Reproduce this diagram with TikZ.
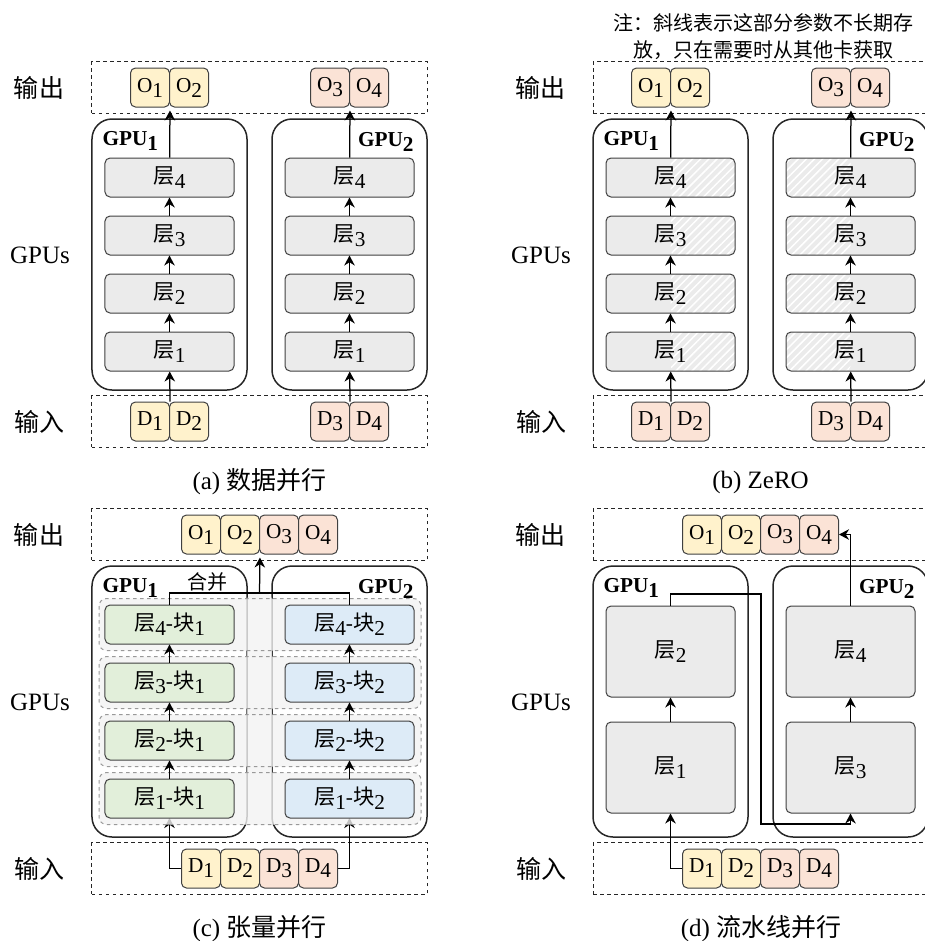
\documentclass[tikz,border=0pt]{standalone}
\usepackage{fontspec}
\setmainfont{Liberation Serif}
\newfontfamily\cjk{Noto Sans CJK SC}
\usetikzlibrary{arrows.meta,calc,positioning,patterns.meta}

\definecolor{yellowfill}{HTML}{FFF2CC}
\definecolor{peachfill}{HTML}{FBE3D6}
\definecolor{greenfill}{HTML}{E2EFDA}
\definecolor{bluefill}{HTML}{DDEBF7}
\definecolor{layerfill}{HTML}{EBEBEB}
\definecolor{boxline}{HTML}{404040}

\newcommand{\zh}[1]{{\cjk #1}}
\newcommand{\lowidx}[1]{\raisebox{-2pt}{#1}}

\begin{document}
\begin{tikzpicture}[x=0.4pt,y=-0.4pt,
    every node/.style={inner sep=0pt},
    iobox/.style={draw=black!85,line width=0.4pt,dash pattern=on 1.4pt off 1.4pt,
      minimum width=134pt,minimum height=20.6pt},
    gpubox/.style={draw=black!85,line width=0.6pt,rounded corners=8pt,
      minimum width=62pt,minimum height=108.4pt},
    layerbox/.style={draw=boxline,line width=0.4pt,fill=layerfill,rounded corners=2pt,
      minimum width=51.6pt,minimum height=15.6pt,font=\fontsize{8.5}{10}\selectfont},
    datbox/.style={draw=boxline,line width=0.4pt,rounded corners=2pt,
      minimum width=15.6pt,minimum height=15.6pt,font=\fontsize{8.5}{10}\selectfont},
    rowlabel/.style={font=\fontsize{10}{12}\selectfont},
    gpulabel/.style={font=\fontsize{8.5}{10}\selectfont\bfseries},
    caption/.style={font=\fontsize{10}{12}\selectfont},
    flow/.style={draw=black,line width=0.5pt,-{Stealth[length=4pt,width=4.2pt,inset=1.3pt]}},
    wire/.style={draw=black,line width=0.5pt},
    hatch/.style={pattern={Lines[angle=45,distance=2.3pt,line width=0.6pt]},pattern color=white},
    hatchright/.style={path picture={\fill[hatch] (path picture bounding box.north)
      rectangle (path picture bounding box.south east);}},
    hatchleft/.style={path picture={\fill[hatch] (path picture bounding box.north)
      rectangle (path picture bounding box.south west);}},
    rowfill/.style={fill=black!5,fill opacity=0.8,rounded corners=3pt},
    rowline/.style={draw=black!40,line width=0.4pt,dash pattern=on 1.4pt off 1.4pt,rounded corners=3pt}
  ]
  \useasboundingbox (0,0) rectangle (925,941);

  % frames of the four panels
  \foreach \p/\sx/\sy in {a/0/0,b/501/0,c/0/447,d/501/447} {
    \begin{scope}[shift={(\sx,\sy)}]
      \node[iobox] (\p-out) at (259.5,87.5) {};
      \node[iobox] (\p-in) at (259.5,421.5) {};
      \node[gpubox] (\p-g1) at (169.5,254.5) {};
      \node[gpubox] (\p-g2) at (349.5,254.5) {};
      \node[gpulabel,anchor=base west] (\p-g1name) at (102,145) {GPU\lowidx{1}};
      \node[gpulabel,anchor=base east] (\p-g2name) at (414,146) {GPU\lowidx{2}};
      \node[rowlabel] (\p-outname) at (39,88) {\zh{输出}};
      \node[rowlabel] (\p-gpuname) at (40,255) {GPUs};
      \node[rowlabel] (\p-inname) at (40,422) {\zh{输入}};
    \end{scope}
  }

  % (a) data parallel
  \node[datbox,fill=yellowfill] (a-o1) at (150,87.5) {O\lowidx{1}};
  \node[datbox,fill=yellowfill] (a-o2) at (189,87.5) {O\lowidx{2}};
  \node[datbox,fill=peachfill] (a-o3) at (330,87.5) {O\lowidx{3}};
  \node[datbox,fill=peachfill] (a-o4) at (369,87.5) {O\lowidx{4}};
  \node[datbox,fill=yellowfill] (a-d1) at (150,421.5) {D\lowidx{1}};
  \node[datbox,fill=yellowfill] (a-d2) at (189,421.5) {D\lowidx{2}};
  \node[datbox,fill=peachfill] (a-d3) at (330,421.5) {D\lowidx{3}};
  \node[datbox,fill=peachfill] (a-d4) at (369,421.5) {D\lowidx{4}};
  \foreach \k/\y in {1/351.5,2/293.5,3/235.5,4/177.5} {
    \node[layerbox] (a-l1\k) at (169.5,\y) {\zh{层}\lowidx{\k}};
    \node[layerbox] (a-l2\k) at (349.5,\y) {\zh{层}\lowidx{\k}};
  }
  \foreach \k [remember=\k as \prev (initially 1)] in {2,3,4} {
    \draw[flow] (a-l1\prev) -- (a-l1\k);
    \draw[flow] (a-l2\prev) -- (a-l2\k);
  }
  \draw[flow] (a-d1.north east) -- (a-l11);
  \draw[flow] (a-d3.north east) -- (a-l21);
  \draw[flow,shorten >=1.2pt] (a-l14) -- (a-o1.south east);
  \draw[flow,shorten >=1.2pt] (a-l24) -- (a-o3.south east);
  \node[caption] (a-cap) at (259.5,482) {(a) \zh{数据并行}};

  % (b) ZeRO
  \begin{scope}[shift={(501,0)}]
    \node[datbox,fill=yellowfill] (b-o1) at (150,87.5) {O\lowidx{1}};
    \node[datbox,fill=yellowfill] (b-o2) at (189,87.5) {O\lowidx{2}};
    \node[datbox,fill=peachfill] (b-o3) at (330,87.5) {O\lowidx{3}};
    \node[datbox,fill=peachfill] (b-o4) at (369,87.5) {O\lowidx{4}};
    \node[datbox,fill=peachfill] (b-d1) at (150,421.5) {D\lowidx{1}};
    \node[datbox,fill=peachfill] (b-d2) at (189,421.5) {D\lowidx{2}};
    \node[datbox,fill=peachfill] (b-d3) at (330,421.5) {D\lowidx{3}};
    \node[datbox,fill=peachfill] (b-d4) at (369,421.5) {D\lowidx{4}};
    \foreach \k/\y in {1/351.5,2/293.5,3/235.5,4/177.5} {
      \node[layerbox,hatchright] (b-l1\k) at (169.5,\y) {\zh{层}\lowidx{\k}};
      \node[layerbox,hatchleft] (b-l2\k) at (349.5,\y) {\zh{层}\lowidx{\k}};
    }
    \foreach \k [remember=\k as \prev (initially 1)] in {2,3,4} {
      \draw[flow] (b-l1\prev) -- (b-l1\k);
      \draw[flow] (b-l2\prev) -- (b-l2\k);
    }
    \draw[flow] (b-d1.north east) -- (b-l11);
    \draw[flow] (b-d3.north east) -- (b-l21);
    \draw[flow,shorten >=1.2pt] (b-l14) -- (b-o1.south east);
    \draw[flow,shorten >=1.2pt] (b-l24) -- (b-o3.south east);
    \node[align=center,font=\cjk\fontsize{8}{10.8}\selectfont] (b-note) at (262,36.5)
      {注：斜线表示这部分参数不长期存\\放，只在需要时从其他卡获取};
    \node[caption] (b-cap) at (259.5,482) {(b) ZeRO};
  \end{scope}

  % (c) tensor parallel
  \begin{scope}[shift={(0,447)}]
    \node[datbox,fill=yellowfill] (c-o1) at (201,87.5) {O\lowidx{1}};
    \node[datbox,fill=yellowfill] (c-o2) at (240,87.5) {O\lowidx{2}};
    \node[datbox,fill=peachfill] (c-o3) at (279,87.5) {O\lowidx{3}};
    \node[datbox,fill=peachfill] (c-o4) at (318,87.5) {O\lowidx{4}};
    \node[datbox,fill=yellowfill] (c-d1) at (201,421.5) {D\lowidx{1}};
    \node[datbox,fill=yellowfill] (c-d2) at (240,421.5) {D\lowidx{2}};
    \node[datbox,fill=peachfill] (c-d3) at (279,421.5) {D\lowidx{3}};
    \node[datbox,fill=peachfill] (c-d4) at (318,421.5) {D\lowidx{4}};
    \coordinate (c-in1) at (169.5,371);
    \coordinate (c-in2) at (349.5,371);
    \draw[flow] (c-d1.west) -| (c-in1);
    \draw[flow] (c-d4.east) -| (c-in2);
    % grey rows and the band between the two GPUs
    \fill[rowfill] (247,146) rectangle (272,378)
      \foreach \y in {177.5,235.5,293.5,351.5} {(99,\y-26) rectangle (421,\y+26)};
    \foreach \y in {177.5,235.5,293.5,351.5}
      \draw[rowline] (99,\y-26) rectangle (421,\y+26);
    \foreach \k/\y in {1/351.5,2/293.5,3/235.5,4/177.5} {
      \node[layerbox,fill=greenfill] (c-l1\k) at (169.5,\y) {\zh{层}\lowidx{\k}-\zh{块}\lowidx{1}};
      \node[layerbox,fill=bluefill] (c-l2\k) at (349.5,\y) {\zh{层}\lowidx{\k}-\zh{块}\lowidx{2}};
    }
    \foreach \k [remember=\k as \prev (initially 1)] in {2,3,4} {
      \draw[flow] (c-l1\prev) -- (c-l1\k);
      \draw[flow] (c-l2\prev) -- (c-l2\k);
    }
    \coordinate (c-merge) at (259.5,146);
    \draw[wire] (c-l14) |- (c-merge) -| (c-l24);
    \draw[flow,shorten >=1.2pt] (c-merge) -- (c-o2.south east);
    \node[font=\cjk\fontsize{8}{10}\selectfont] (c-mergename) at (207,135) {合并};
    \node[caption] (c-cap) at (259.5,482) {(c) \zh{张量并行}};
  \end{scope}

  % (d) pipeline parallel
  \begin{scope}[shift={(501,447)}]
    \node[datbox,fill=yellowfill] (d-o1) at (201,87.5) {O\lowidx{1}};
    \node[datbox,fill=yellowfill] (d-o2) at (240,87.5) {O\lowidx{2}};
    \node[datbox,fill=peachfill] (d-o3) at (279,87.5) {O\lowidx{3}};
    \node[datbox,fill=peachfill] (d-o4) at (318,87.5) {O\lowidx{4}};
    \node[datbox,fill=yellowfill] (d-d1) at (201,421.5) {D\lowidx{1}};
    \node[datbox,fill=yellowfill] (d-d2) at (240,421.5) {D\lowidx{2}};
    \node[datbox,fill=peachfill] (d-d3) at (279,421.5) {D\lowidx{3}};
    \node[datbox,fill=peachfill] (d-d4) at (318,421.5) {D\lowidx{4}};
    \node[layerbox,minimum height=36.4pt] (d-l11) at (169.5,320.5) {\zh{层}\lowidx{1}};
    \node[layerbox,minimum height=36.4pt] (d-l12) at (169.5,204.5) {\zh{层}\lowidx{2}};
    \node[layerbox,minimum height=36.4pt] (d-l23) at (349.5,320.5) {\zh{层}\lowidx{3}};
    \node[layerbox,minimum height=36.4pt] (d-l24) at (349.5,204.5) {\zh{层}\lowidx{4}};
    \draw[flow] (d-l11) -- (d-l12);
    \draw[flow] (d-l23) -- (d-l24);
    \coordinate (d-hop1) at (260,147);
    \coordinate (d-hop2) at (260,377);
    \draw[flow] (d-l12) |- (d-hop1) -- (d-hop2) -| (d-l23);
    \draw[flow] (d-l24) |- (d-o4.east);
    \draw[flow] (d-d1.west) -| (d-l11);
    \node[caption] (d-cap) at (260,482) {(d) \zh{流水线并行}};
  \end{scope}
\end{tikzpicture}
\end{document}
